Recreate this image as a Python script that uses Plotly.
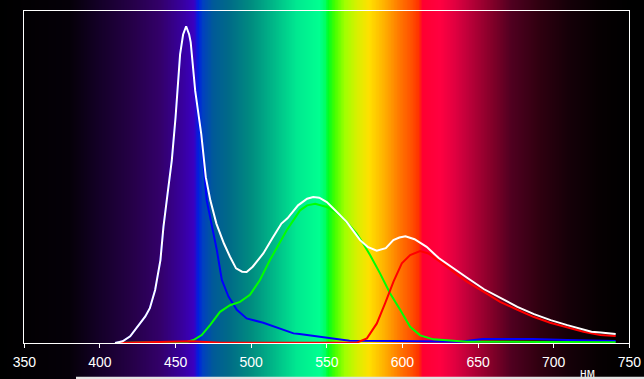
import numpy as np
import plotly.graph_objects as go

# ---------------- data ----------------
tick_vals = [350, 400, 450, 500, 550, 600, 650, 700, 750]
tick_text = ["350", "400", "450", "500", "550", "600", "650", "700", "750"]
unit_label = "нм"

white_wl = [410, 415, 420, 425, 430, 433, 436.5, 440, 442, 445, 447.5, 450, 453, 455, 457,
            459, 460, 463, 467, 470, 473, 477, 482, 486, 490, 494, 497, 501, 505, 508, 514,
            520, 524, 531, 537, 541, 545, 550, 554, 559, 563, 568, 572, 577, 583, 589, 594,
            598, 602, 608, 616, 624, 632, 643, 654, 665, 676, 687, 698, 709, 720, 725, 731,
            736, 741]
white_val = [0.0, 0.005, 0.02, 0.05, 0.08, 0.105, 0.16, 0.25, 0.35, 0.46, 0.55, 0.68, 0.87, 0.93, 0.955,
             0.93, 0.907, 0.76, 0.63, 0.50, 0.43, 0.36, 0.30, 0.26, 0.225, 0.215, 0.214, 0.23, 0.255, 0.27, 0.316,
             0.36, 0.376, 0.415, 0.435, 0.44, 0.438, 0.425, 0.407, 0.385, 0.366, 0.335, 0.31, 0.29, 0.278, 0.286, 0.31,
             0.318, 0.322, 0.313, 0.29, 0.256, 0.23, 0.196, 0.162, 0.135, 0.109, 0.087, 0.069, 0.054, 0.039, 0.034, 0.032,
             0.029, 0.027]

blue_wl = [410, 415, 420, 425, 430, 433, 436.5, 440, 442, 445, 447.5, 450, 453, 455, 457,
           459, 460, 463, 467, 470.6, 474, 477.3, 480.6, 485, 490.5, 497, 508, 519, 528,
           532, 550, 565, 598, 638, 653, 686, 709, 741]
blue_val = [0.0, 0.005, 0.02, 0.05, 0.08, 0.105, 0.16, 0.25, 0.35, 0.46, 0.55, 0.68, 0.87, 0.93, 0.955,
            0.93, 0.905, 0.755, 0.62, 0.43, 0.35, 0.28, 0.19, 0.14, 0.10, 0.074, 0.061, 0.044, 0.029,
            0.027, 0.017, 0.007, 0.006, 0.004, 0.012, 0.012, 0.009, 0.006]

green_wl = [410, 450, 458, 461.8, 467.3, 472.8, 479.4, 486, 492.6, 499.2, 505.8, 512.4, 517.9,
            523.5, 532.3, 537, 542.3, 550, 556, 561, 565, 569.8, 574, 578.6, 585.2, 591.8, 598.5,
            605.1, 611.7, 620.5, 642.6, 700, 741]
green_val = [0.0, 0.002, 0.004, 0.009, 0.024, 0.054, 0.094, 0.114, 0.124, 0.145, 0.19, 0.25, 0.295,
             0.34, 0.40, 0.415, 0.42, 0.41, 0.395, 0.375, 0.355, 0.33, 0.30, 0.265, 0.21, 0.15, 0.10,
             0.049, 0.023, 0.011, 0.004, 0.003, 0.002]

red_wl = [410, 440, 450, 460, 470, 480, 500, 540, 569.8, 576.5, 583.1, 588.6, 594.1, 599.6, 605.1,
          611.7, 617.2, 624.9, 633.7, 642.6, 653.6, 664.6, 675.7, 686.6, 697.7, 708.7, 719.7,
          730.8, 741]
red_val = [0.0, 0.002, 0.004, 0.005, 0.003, 0.001, 0.001, 0.0, 0.001, 0.014, 0.059, 0.12, 0.185, 0.24, 0.265,
           0.277, 0.27, 0.245, 0.215, 0.185, 0.155, 0.124, 0.101, 0.079, 0.061, 0.047, 0.034,
           0.024, 0.021]

# ---------------- background spectrum styling ----------------
W, H = 644, 379
px_left, px_right, px_top, px_bottom = 24.3, 629.3, 11.3, 343.0
nm_per_px = 400.0 / (px_right - px_left)
bg_start = 350 - px_left * nm_per_px

spec_stops = [
    (bg_start, "#000000"), (380, "#050008"), (400, "#140028"), (420, "#240045"),
    (440, "#33006a"), (455, "#3800a0"), (462, "#3a00c0"), (465, "#0020e0"),
    (468, "#0040c0"), (475, "#005a98"), (485, "#006a88"), (500, "#008c80"),
    (515, "#00b888"), (530, "#00e890"), (545, "#00ff90"), (549, "#00ff60"),
    (551, "#00ff20"), (555, "#40ff00"), (562, "#a0ff00"), (570, "#d8f000"),
    (578, "#ffe000"), (588, "#ffb000"), (598, "#ff7800"), (606, "#ff5000"),
    (611, "#ff3000"), (613, "#ff0030"), (625, "#ff0040"), (635, "#e00040"),
    (645, "#b80038"), (660, "#800028"), (672, "#500020"), (690, "#300010"),
    (710, "#150008"), (730, "#060002"), (750, "#000000"),
]
lo, hi = spec_stops[0][0], spec_stops[-1][0]
colorscale = [[(w - lo) / (hi - lo), c] for w, c in spec_stops]
bg_x = np.arange(lo, hi + 0.25, 0.5)

fig = go.Figure()

# background spectrum on full-height axes (x/y)
fig.add_trace(go.Heatmap(
    x=bg_x, y=[0, 1], z=[bg_x, bg_x],
    colorscale=colorscale, zmin=lo, zmax=hi, showscale=False,
    hoverinfo="skip", xaxis="x", yaxis="y",
))

# curves on inner axes (x2/y2)
for wl, val, col in [(blue_wl, blue_val, "#0000ff"),
                     (green_wl, green_val, "#00ff00"),
                     (red_wl, red_val, "#ff0000"),
                     (white_wl, white_val, "#ffffff")]:
    fig.add_trace(go.Scatter(x=wl, y=val, mode="lines",
                             line=dict(color=col, width=2),
                             xaxis="x2", yaxis="y2", hoverinfo="skip",
                             showlegend=False))

fig.update_layout(
    width=W, height=H,
    margin=dict(l=0, r=0, t=0, b=0, pad=0),
    paper_bgcolor="#000000",
    plot_bgcolor="rgba(0,0,0,0)",
    showlegend=False,
    font=dict(family="Liberation Sans, Arial, sans-serif", color="#ffffff"),
    xaxis=dict(domain=[0, px_right / W], range=[lo, hi], visible=False, fixedrange=True,
               automargin=False),
    yaxis=dict(domain=[0, 1], range=[0, 1], visible=False, fixedrange=True, automargin=False),
    xaxis2=dict(domain=[px_left / W, px_right / W], range=[350, 750], anchor="y2",
                showline=True, mirror=True, linecolor="#ffffff", linewidth=1,
                showgrid=False, zeroline=False, ticks="outside", ticklen=4,
                tickwidth=1, tickcolor="#ffffff", tickvals=tick_vals, ticktext=tick_text,
                tickfont=dict(size=14, color="#ffffff"), ticklabelstandoff=2,
                automargin=False, fixedrange=True),
    yaxis2=dict(domain=[(H - px_bottom) / H, (H - px_top) / H], range=[0, 1], anchor="x2",
                showline=True, mirror=True, linecolor="#ffffff", linewidth=1,
                showgrid=False, zeroline=False, showticklabels=False, ticks="",
                automargin=False, fixedrange=True),
    annotations=[dict(text=unit_label, xref="paper", yref="paper",
                      x=587 / W, y=(H - 364) / H, xanchor="center", yanchor="top",
                      showarrow=False, font=dict(size=12, color="#ffffff"))],
    shapes=[dict(type="rect", xref="paper", yref="paper", x0=76 / W, x1=1,
                 y0=0, y1=2.3 / H, fillcolor="#e4e4e4", line=dict(width=0), layer="above")],
)

fig.write_html("out.html",
               config={"displayModeBar": False, "staticPlot": True},
               post_script="document.body.style.margin='0px';document.body.style.overflow='hidden';")
